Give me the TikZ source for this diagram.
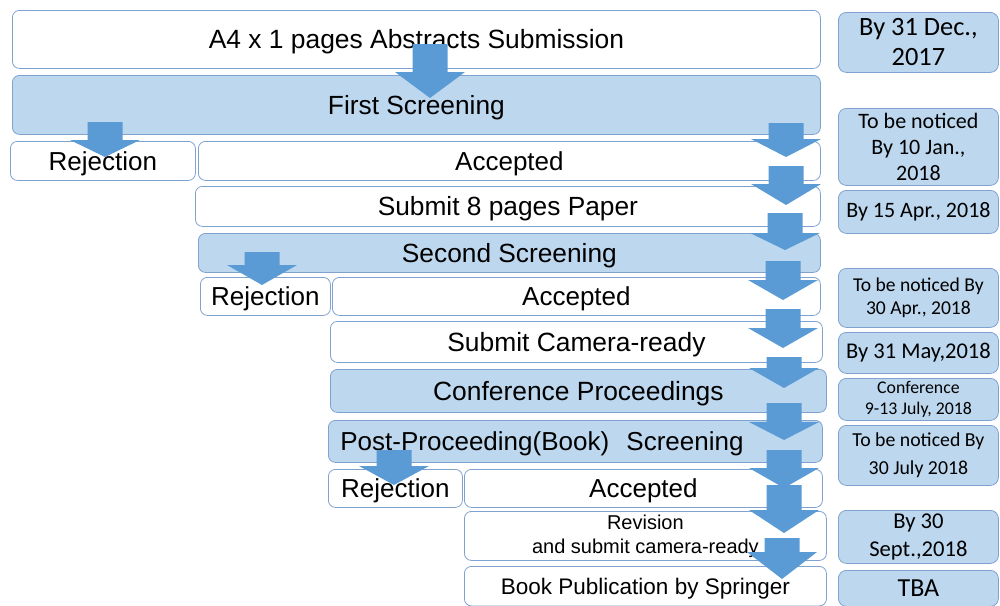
\documentclass[tikz,border=0pt]{standalone}
\usepackage{fontspec}
\setmainfont{Liberation Sans}
\newfontfamily\calib{Carlito}
\definecolor{boxblue}{RGB}{189,215,238}
\definecolor{boxline}{RGB}{128,162,206}
\definecolor{arrowblue}{RGB}{91,155,213}
\newcommand\fs[2]{\fontsize{#1}{#2}\selectfont}
\tikzset{
  box/.style={draw=boxline, line width=0.8pt, rounded corners=7pt, fill=white, anchor=north west, inner sep=0pt, align=center},
  bluebox/.style={box, fill=boxblue},
  onel/.style={text depth=0pt},
  datebox/.style={draw=boxline, line width=0.8pt, rounded corners=8pt, fill=boxblue, anchor=north west, inner sep=0pt, align=center},
  blockarrow/.style={fill=arrowblue, draw=none},
}
% cx, shaft top, head top, tip
\newcommand\barrow[4]{\fill[blockarrow] (#1-17.5,#2) -- (#1+17.5,#2) -- (#1+17.5,#3) -- (#1+35,#3) -- (#1,#4) -- (#1-35,#3) -- (#1-17.5,#3) -- cycle;}
\begin{document}
\begin{tikzpicture}[x=1pt,y=-1pt]
\useasboundingbox (0,0) rectangle (1000,605);
\clip (0,0) rectangle (1000,605);
% left flow boxes
\node[box, onel, minimum width=808, minimum height=58, font=\fs{26.4}{31}] (abs) at (12,10) {A4 x 1 pages Abstracts Submission};
\node[bluebox, onel, minimum width=808, minimum height=59, font=\fs{26.3}{31}] (fs) at (12,75) {First Screening};
\node[box, onel, minimum width=185, minimum height=39, font=\fs{26}{31}] (rej1) at (10,141) {Rejection};
\node[box, onel, minimum width=622, minimum height=39, font=\fs{26}{31}] (acc1) at (198,141) {Accepted};
\node[box, onel, minimum width=625, minimum height=40, font=\fs{26.3}{31}] (sub8) at (195,186) {Submit 8 pages Paper};
\node[bluebox, onel, minimum width=622, minimum height=39, font=\fs{26.3}{31}] (ss) at (198,233) {Second Screening};
\node[box, onel, minimum width=130, minimum height=38, font=\fs{26}{31}] (rej2) at (200,277) {Rejection};
\node[box, onel, minimum width=488, minimum height=38, font=\fs{26}{31}] (acc2) at (332,277) {Accepted};
\node[box, onel, minimum width=492, minimum height=41, font=\fs{26.4}{31}] (cam) at (330,321) {Submit Camera-ready};
\node[bluebox, onel, minimum width=496, minimum height=43, font=\fs{26.4}{31}] (cp) at (330,369) {Conference Proceedings};
\node[bluebox, onel, minimum width=494, minimum height=42, text width=470, inner xsep=12pt, align=left, font=\fs{26}{31}] (pp) at (328,420) {Post-Proceeding(Book)\ \ Screening};
\node[box, onel, minimum width=134, minimum height=38, font=\fs{26}{31}] (rej3) at (328,469) {Rejection};
\node[box, onel, minimum width=358, minimum height=38, font=\fs{26}{31}] (acc3) at (464,469) {Accepted};
\node[box, minimum width=362, minimum height=49, font=\fs{20}{24}] (rev) at (464,511) {Revision\\and submit camera-ready};
\node[box, onel, minimum width=362, minimum height=39.5, font=\fs{22.5}{27}] (book) at (464,566) {Book Publication by Springer};
% date boxes
\node[datebox, minimum width=160, minimum height=60, font=\calib\fs{26.4}{30}] (d1) at (838,12) {By 31 Dec.,\\2017};
\node[datebox, minimum width=160, minimum height=77, font=\calib\fs{22}{26}] (d2) at (838,108) {To be noticed\\By 10 Jan.,\\2018};
\node[datebox, minimum width=160, minimum height=43, font=\calib\fs{22}{26}] (d3) at (838,190) {By 15 Apr., 2018};
\node[datebox, minimum width=160, minimum height=59, font=\calib\fs{19.6}{23.5}] (d4) at (838,268) {To be noticed By\\30 Apr., 2018};
\node[datebox, minimum width=160, minimum height=41, font=\calib\fs{22.5}{26}] (d5) at (838,332) {By 31 May,2018};
\node[datebox, minimum width=160, minimum height=42, font=\calib\fs{17.8}{21}] (d6) at (838,378) {Conference\\9-13 July, 2018};
\node[datebox, minimum width=160, minimum height=60, font=\calib\fs{19.8}{28}] (d7) at (838,425) {To be noticed By\\30 July 2018};
\node[datebox, minimum width=160, minimum height=53, font=\calib\fs{22.6}{28}] (d8) at (838,510) {By 30\\Sept.,2018};
\node[datebox, onel, minimum width=160, minimum height=36, font=\calib\fs{26}{30}] (d9) at (838,570) {TBA};
% block arrows
\barrow{430}{44}{72}{98}
\barrow{105}{122}{140}{157}
\barrow{262}{252}{265}{285}
\barrow{394}{450}{466}{485}
\barrow{786}{123}{139}{157}
\barrow{786}{166}{184}{205}
\barrow{785}{213}{233}{250}
\barrow{783}{261}{280}{300}
\barrow{783}{309}{328}{348}
\barrow{784}{357}{368}{388}
\barrow{784}{403}{422}{440}
\barrow{784}{450}{468}{488}
\barrow{784}{485}{510}{533}
\barrow{782}{538}{552}{579}
\end{tikzpicture}
\end{document}
